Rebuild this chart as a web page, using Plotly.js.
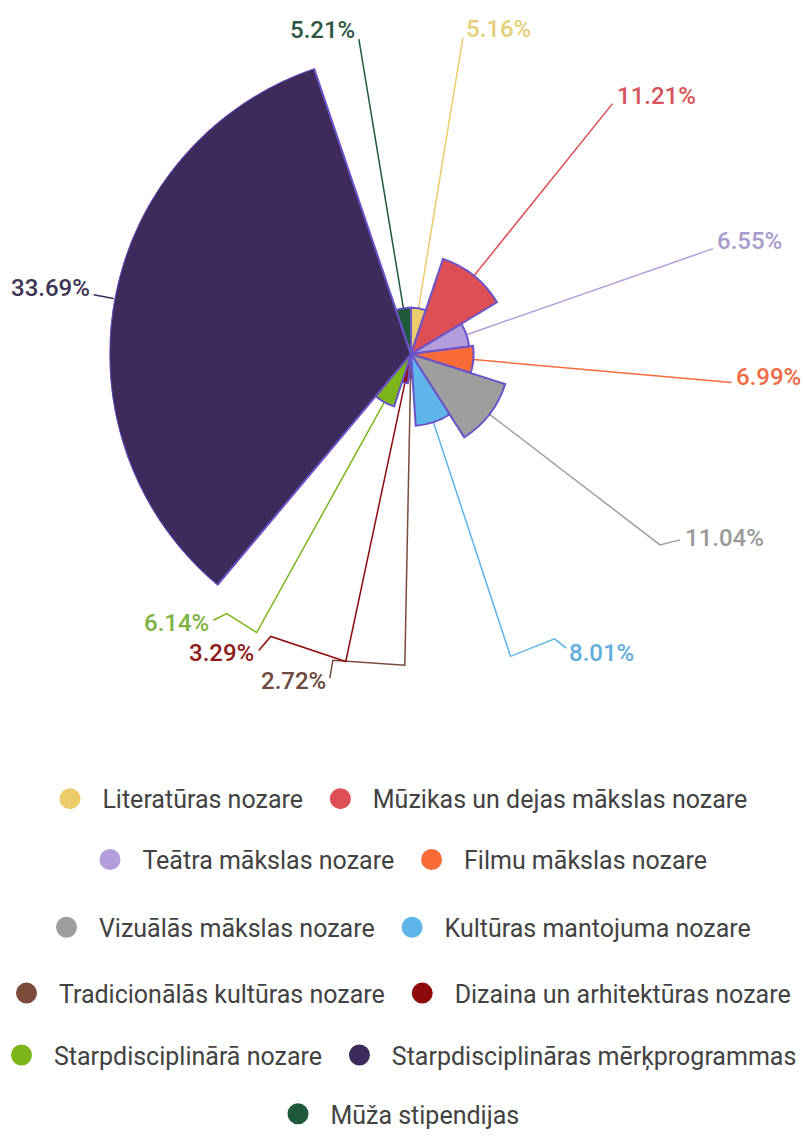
<!DOCTYPE html>
<html>
<head>
<meta charset="utf-8">
<script src="https://cdn.plot.ly/plotly-3.0.1.min.js"></script>
<style>html,body{margin:0;padding:0;background:#fff;}#chart{width:803px;height:1137px;}</style>
</head>
<body>
<div id="chart"></div>
<script>
// ---- data ----
const categories = [
  "Literatūras nozare",
  "Mūzikas un dejas mākslas nozare",
  "Teātra mākslas nozare",
  "Filmu mākslas nozare",
  "Vizuālās mākslas nozare",
  "Kultūras mantojuma nozare",
  "Tradicionālās kultūras nozare",
  "Dizaina un arhitektūras nozare",
  "Starpdisciplinārā nozare",
  "Starpdisciplināras mērķprogrammas",
  "Mūža stipendijas"
];
const values = [5.16, 11.21, 6.55, 6.99, 11.04, 8.01, 2.72, 3.29, 6.14, 33.69, 5.21];
const valueLabels = ["5.16%", "11.21%", "6.55%", "6.99%", "11.04%", "8.01%", "2.72%", "3.29%", "6.14%", "33.69%", "5.21%"];

// ---- style ----
const colors = ["#ECCB6A", "#DE4E55", "#B39DDB", "#FA6B3A", "#9E9E9E", "#5EB5EA",
                "#7B4B3A", "#8E0B0B", "#7CB518", "#3E2A5B", "#1E5A3A"];
const labelColors = ["#E6CF78", "#D9545B", "#A99BCB", "#F06A42", "#9A9A9A", "#62AEDB",
                     "#6D4A3E", "#8E1B1B", "#7CB342", "#3E3453", "#2E5744"];
const outlineColor = "#6A52C8";
const legendRows = [[0, 1], [2, 3], [4, 5], [6, 7], [8, 9], [10]];
const legendRowY = [801, 862, 930, 996, 1058, 1117];
// leader-line layout: radial end (px), bend offsets (px, relative to radial end), label offset from last point
const leaderStyle = [
  {r: 321, pts: [], side: "left", dx: 1, dy: -9},
  {r: 322, pts: [], side: "left", dx: 2, dy: -8},
  {r: 320, pts: [], side: "left", dx: 2, dy: -8},
  {r: 322, pts: [], side: "left", dx: 2, dy: -6},
  {r: 314, pts: [[20, -5]], side: "left", dx: 3, dy: -2},
  {r: 319, pts: [[44, -17.6], [55.7, -8.3]], side: "left", dx: 1, dy: 5},
  {r: 312, pts: [[-72, -5], [-75, 13]], side: "right", dx: -2, dy: 3},
  {r: 315, pts: [[-75, -25], [-87, -11]], side: "right", dx: -3, dy: 3},
  {r: 319, pts: [[-30, -19], [-43.4, -12.3]], side: "right", dx: -2, dy: 3},
  {r: 323, pts: [], side: "right", dx: -2, dy: -7},
  {r: 320, pts: [], side: "right", dx: -2, dy: -9}
];

const W = 803, H = 1137;
const cx = 411, cy = 355, R = 302.5;  // pie centre and outer radius for the largest value (px)
const NB = "\u00a0";

// ---- derived geometry ----
const total = values.reduce((a, b) => a + b, 0);
const maxV = Math.max(...values);
const widths = values.map(v => v / total * 360);
const mids = [];
let acc = 0;
widths.forEach(w => { mids.push(acc + w / 2); acc += w; });
const pxPerUnit = R / maxV;

function polarToPx(angleDeg, rPx) {
  const a = angleDeg * Math.PI / 180;
  return [cx + rPx * Math.sin(a), cy - rPx * Math.cos(a)];
}

const traces = [];
traces.push({
  type: "barpolar",
  r: values,
  theta: mids,
  width: widths,
  marker: {color: colors, line: {color: outlineColor, width: 2}},
  hoverinfo: "skip",
  showlegend: false,
  subplot: "polar"
});

const annotations = [];
values.forEach((v, i) => {
  const st = leaderStyle[i];
  const start = polarToPx(mids[i], v * pxPerUnit);
  const end = polarToPx(mids[i], st.r);
  const xs = [start[0], end[0]], ys = [start[1], end[1]];
  st.pts.forEach(p => { xs.push(end[0] + p[0]); ys.push(end[1] + p[1]); });
  traces.push({
    type: "scatter", mode: "lines", x: xs, y: ys, xaxis: "x", yaxis: "y",
    line: {color: colors[i], width: 1.5}, hoverinfo: "skip", showlegend: false
  });
  const lx = xs[xs.length - 1] + st.dx, ly = ys[ys.length - 1] + st.dy;
  annotations.push({
    xref: "x", yref: "y", x: lx, y: ly, text: valueLabels[i], showarrow: false,
    xanchor: st.side, yanchor: "middle",
    font: {family: "Roboto, sans-serif", size: 24, color: labelColors[i], weight: 500}
  });
});

// legend entries (circle markers)
const layoutLegends = {};
legendRows.forEach((row, k) => {
  const key = k === 0 ? "legend" : "legend" + (k + 1);
  layoutLegends[key] = {
    orientation: "h", x: 0.5, xanchor: "center", y: 1 - legendRowY[k] / H, yanchor: "middle",
    bgcolor: "rgba(0,0,0,0)", itemsizing: "trace", itemclick: false, itemdoubleclick: false,
    font: {family: "Roboto, sans-serif", size: 25, color: "#424242"}, tracegroupgap: 0
  };
  row.forEach((i, j) => {
    const trail = j < row.length - 1 ? NB + NB : "";
    traces.push({
      type: "scatter", mode: "markers", x: [null], y: [null], xaxis: "x", yaxis: "y",
      name: NB + NB + categories[i] + trail, legend: key, showlegend: true,
      marker: {symbol: "circle", size: 16, color: colors[i], line: {color: colors[i], width: 5}}
    });
  });
});

const layout = Object.assign({
  width: W, height: H,
  margin: {l: 0, r: 0, t: 0, b: 0},
  paper_bgcolor: "#fff", plot_bgcolor: "rgba(0,0,0,0)",
  font: {family: "Roboto, sans-serif"},
  showlegend: true,
  xaxis: {domain: [0, 1], range: [0, W], visible: false, fixedrange: true},
  yaxis: {domain: [0, 1], range: [H, 0], visible: false, fixedrange: true},
  polar: {
    domain: {x: [(cx - R) / W, (cx + R) / W], y: [1 - (cy + R) / H, 1 - (cy - R) / H]},
    bgcolor: "rgba(0,0,0,0)",
    radialaxis: {range: [0, maxV], visible: false, showgrid: false, showline: false, showticklabels: false, ticks: ""},
    angularaxis: {direction: "clockwise", rotation: 90, visible: false, showgrid: false, showline: false, showticklabels: false, ticks: ""},
    bargap: 0
  },
  annotations: annotations
}, layoutLegends);

Plotly.newPlot("chart", traces, layout, {displayModeBar: false, staticPlot: true});
</script>
</body>
</html>
